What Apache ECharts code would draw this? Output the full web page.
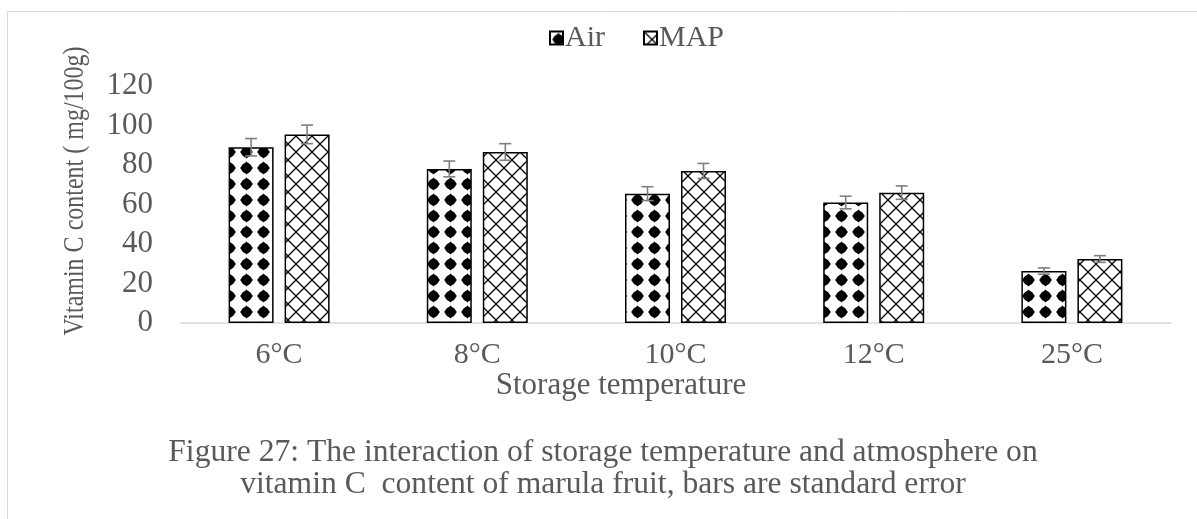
<!DOCTYPE html>
<html>
<head>
<meta charset="utf-8">
<script src="https://cdn.jsdelivr.net/npm/echarts@6/dist/echarts.min.js"></script>
<style>
    html, body { margin: 0; padding: 0; background: #fff; }
    #chartView { width: 1197px; height: 519px; }
</style>
</head>
<body>
<div id="chartView"></div>
<script>
    // data
    var categories = ['6°C', '8°C', '10°C', '12°C', '25°C'];
    var airValues = [89, 78, 65.5, 61, 26.3];
    var airErrors = [4.4, 4, 3.5, 3.2, 1.6];
    var mapValues = [95.5, 86.6, 77, 66, 32.4];
    var mapErrors = [4.7, 4.2, 3.8, 3.4, 1.7];
    var yTicks = [0, 20, 40, 60, 80, 100, 120];

    var textColor = '#595959';
    var fontName = '"Liberation Serif", "Times New Roman", serif';
    var barWidth = 45;
    var barGapPx = 11;

    // black rounded diamonds on white
    function makeDotPattern() {
        var c = document.createElement('canvas');
        c.width = 17; c.height = 16;
        var ctx = c.getContext('2d');
        ctx.fillStyle = '#fff';
        ctx.fillRect(0, 0, 17, 16);
        ctx.fillStyle = '#000';
        ctx.beginPath();
        ctx.moveTo(8.5, 1.5); ctx.lineTo(15, 8); ctx.lineTo(8.5, 14.5); ctx.lineTo(2, 8);
        ctx.closePath();
        ctx.fill();
        ctx.beginPath();
        ctx.arc(8.5, 8, 5.3, 0, Math.PI * 2);
        ctx.fill();
        return c;
    }

    // diagonal crosshatch
    function makeHatchPattern() {
        var c = document.createElement('canvas');
        c.width = 16; c.height = 16;
        var ctx = c.getContext('2d');
        ctx.fillStyle = '#fff';
        ctx.fillRect(0, 0, 16, 16);
        ctx.strokeStyle = '#000';
        ctx.lineWidth = 1.3;
        ctx.beginPath();
        ctx.moveTo(-2, -2); ctx.lineTo(18, 18);
        ctx.moveTo(18, -2); ctx.lineTo(-2, 18);
        ctx.stroke();
        return c;
    }

    var airFill = {image: makeDotPattern(), repeat: 'repeat'};
    var mapFill = {image: makeHatchPattern(), repeat: 'repeat'};

    function errorSeries(name, values, errors, side) {
        var items = values.map(function (v, i) { return [i, v - errors[i], v + errors[i]]; });
        return {
            name: name + ' err',
            type: 'custom',
            silent: true,
            z: 10,
            renderItem: function (params, api) {
                var idx = api.value(0);
                var low = api.coord([idx, api.value(1)]);
                var high = api.coord([idx, api.value(2)]);
                var x = low[0] + side * (barWidth + barGapPx) / 2;
                var half = 6;
                var st = {stroke: '#7f7f7f', lineWidth: 1.6};
                return {
                    type: 'group',
                    children: [
                        {type: 'line', shape: {x1: x, y1: high[1], x2: x, y2: low[1]}, style: st},
                        {type: 'line', shape: {x1: x - half, y1: high[1], x2: x + half, y2: high[1]}, style: st},
                        {type: 'line', shape: {x1: x - half, y1: low[1], x2: x + half, y2: low[1]}, style: st}
                    ]
                };
            },
            encode: {x: 0, y: [1, 2]},
            data: items
        };
    }

    var chartView = echarts.init(document.getElementById('chartView'));

    var option = {
        animation: false,
        backgroundColor: '#fff',
        textStyle: {fontFamily: fontName},
        title: {
            text: 'Figure 27: The interaction of storage temperature and atmosphere on\nvitamin C  content of marula fruit, bars are standard error',
            left: 598,
            top: 432,
            textAlign: 'center',
            textStyle: {
                fontFamily: fontName,
                fontWeight: 'normal',
                fontSize: 31.6,
                lineHeight: 32,
                color: textColor
            }
        },
        legend: {
            data: ['Air', 'MAP'],
            left: 549,
            top: 23,
            padding: 0,
            icon: 'rect',
            itemWidth: 13,
            itemHeight: 13,
            itemGap: 38,
            textStyle: {fontFamily: fontName, fontSize: 30, color: textColor, padding: [0, 0, 0, -3]}
        },
        grid: {
            left: 180,
            right: 26,
            top: 86,
            bottom: 196,
            containLabel: false
        },
        xAxis: {
            type: 'category',
            data: categories,
            axisLine: {lineStyle: {color: '#d9d9d9', width: 1.5}},
            axisTick: {show: false},
            axisLabel: {
                fontFamily: fontName,
                fontSize: 30,
                color: textColor,
                margin: 17
            }
        },
        yAxis: {
            type: 'value',
            min: yTicks[0],
            max: yTicks[yTicks.length - 1],
            interval: yTicks[1] - yTicks[0],
            splitLine: {show: false},
            axisLine: {show: false},
            axisTick: {show: false},
            axisLabel: {
                fontFamily: fontName,
                fontSize: 31,
                color: textColor,
                margin: 27
            }
        },
        graphic: [
            {
                type: 'rect',
                shape: {x: 7.5, y: 11.5, width: 1300, height: 600},
                style: {fill: 'none', stroke: '#d9d9d9', lineWidth: 1},
                silent: true
            },
            {
                type: 'text',
                x: 75,
                y: 191,
                rotation: Math.PI / 2,
                scaleX: 0.8,
                style: {
                    text: 'Vitamin C content ( mg/100g)',
                    font: '30px ' + fontName,
                    fill: textColor,
                    align: 'center',
                    verticalAlign: 'middle'
                }
            },
            {
                type: 'text',
                x: 621,
                y: 386,
                style: {
                    text: 'Storage temperature',
                    font: '31px ' + fontName,
                    fill: textColor,
                    align: 'center',
                    verticalAlign: 'middle'
                }
            }
        ],
        series: [
            {
                name: 'Air',
                type: 'bar',
                barWidth: barWidth,
                barGap: (barGapPx / barWidth * 100) + '%',
                itemStyle: {color: airFill, borderColor: '#000', borderWidth: 1.5},
                data: airValues
            },
            {
                name: 'MAP',
                type: 'bar',
                barWidth: barWidth,
                itemStyle: {color: mapFill, borderColor: '#000', borderWidth: 1.5},
                data: mapValues
            },
            errorSeries('Air', airValues, airErrors, -1),
            errorSeries('MAP', mapValues, mapErrors, 1)
        ]
    };

    chartView.setOption(option);
</script>
</body>
</html>
